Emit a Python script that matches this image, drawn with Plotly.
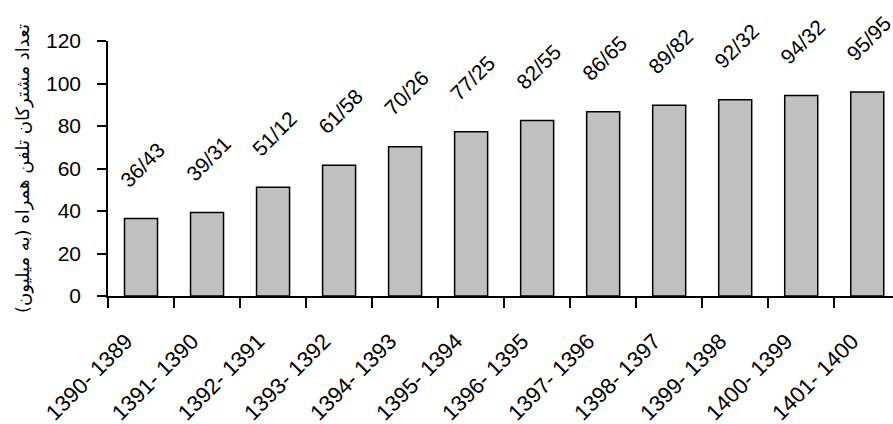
import plotly.graph_objects as go

# Iranian-calendar year ranges (label text as printed)
periods = ["1390- 1389", "1391- 1390", "1392- 1391", "1393- 1392", "1394- 1393",
           "1395- 1394", "1396- 1395", "1397- 1396", "1398- 1397", "1399- 1398",
           "1400- 1399", "1401- 1400"]
# Mobile subscribers, millions
subscribers = [36.43, 39.31, 51.12, 61.58, 70.26, 77.25, 82.55, 86.65, 89.82,
               92.32, 94.32, 95.95]
y_ticks = [0, 20, 40, 60, 80, 100, 120]
y_title = "تعداد مشترکان تلفن همراه (به میلیون)"

FONT = "Liberation Sans, Arial, sans-serif"
Y_MAX = 120
LABEL_GAP = 26  # value labels float this far (in y units) above the bar top

fig = go.Figure(
    go.Bar(
        x=list(range(len(periods))),
        y=subscribers,
        width=0.5,
        marker=dict(color="#c0c0c0", line=dict(color="black", width=1.5)),
        hoverinfo="skip",
    )
)

# rotated value labels (Persian decimal slash), carried by invisible shapes;
# y is given in paper units so labels above the top of the axis stay visible
for i, v in enumerate(subscribers):
    yp = (v + LABEL_GAP) / Y_MAX
    fig.add_shape(
        type="rect", xref="x", yref="paper",
        x0=i - 0.2, x1=i + 0.2, y0=yp, y1=yp,
        line=dict(width=0), fillcolor="rgba(0,0,0,0)",
        label=dict(text=f"{v:.2f}".replace(".", "/"), textangle=-45,
                   textposition="middle center",
                   font=dict(family=FONT, size=21, color="black")),
    )

fig.update_layout(
    width=893, height=424,
    margin=dict(l=108, r=0, t=41, b=128, autoexpand=False),
    plot_bgcolor="white", paper_bgcolor="white",
    showlegend=False,
)
fig.update_xaxes(
    range=[-0.5, 11.39],
    tickmode="array", tickvals=list(range(len(periods))), ticktext=periods,
    showline=True, linecolor="black", linewidth=1.5,
    ticks="", tickangle=-45, ticklabelstandoff=22, ticklabelshift=-15,
    tickfont=dict(family=FONT, size=22, color="black"),
    showgrid=False, zeroline=False, automargin=False,
    minor=dict(tickmode="array", tickvals=[i - 0.5 for i in range(len(periods) + 1)],
               ticks="outside", ticklen=10, tickwidth=1.5, tickcolor="black"),
)
fig.update_yaxes(
    range=[0, Y_MAX], tickvals=y_ticks,
    showline=True, linecolor="black", linewidth=1.5,
    ticks="outside", ticklen=9, tickwidth=1.5, tickcolor="black",
    ticklabelstandoff=12,
    tickfont=dict(family=FONT, size=21, color="black"),
    showgrid=False, zeroline=False, automargin=False,
    title=dict(text=y_title, font=dict(family="DejaVu Sans", size=18, color="black"),
               standoff=12),
)

fig.write_html("out.html")
